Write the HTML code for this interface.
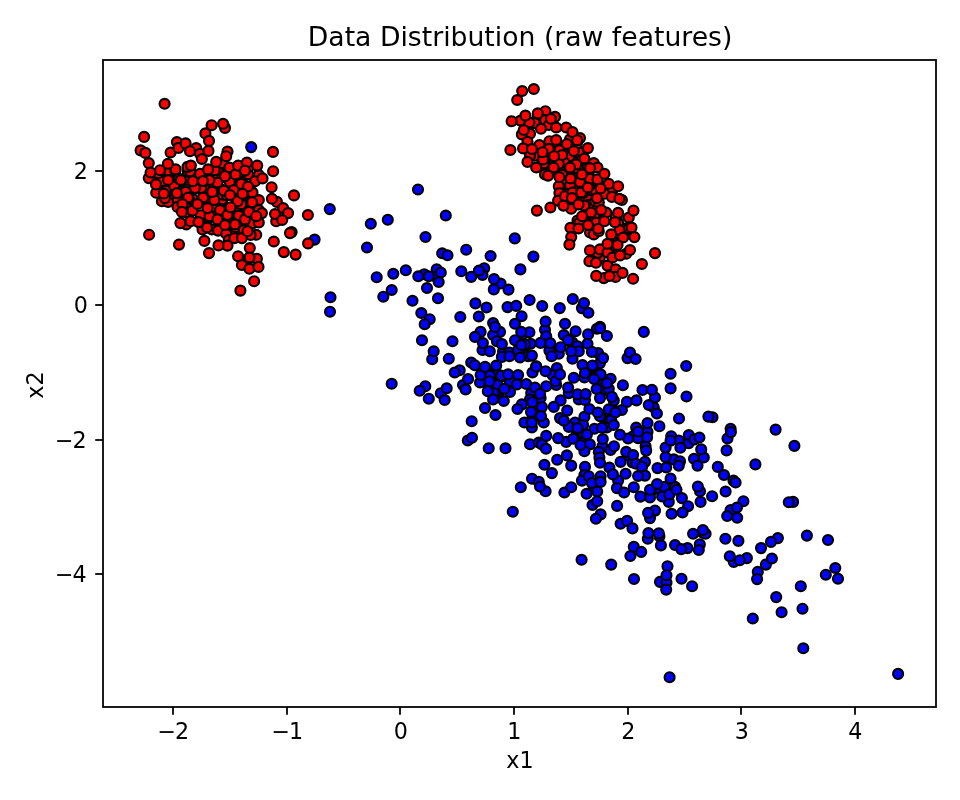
<!DOCTYPE html>
<html><head><meta charset="utf-8"><title>Data Distribution (raw features)</title>
<style>
html,body{margin:0;padding:0;background:#fff;}
body{width:960px;height:800px;overflow:hidden;}
svg{display:block;}
text{font-family:"DejaVu Sans","Liberation Sans",sans-serif;fill:#000;}
.t{font-size:22.22px;}
.ti{font-size:26.67px;}
.p circle{stroke:#000;stroke-width:2.2;}
.r{fill:#ff0000;}
.b{fill:#0000ff;}
</style></head><body>
<svg width="960" height="800" viewBox="0 0 960 800">
<rect x="0" y="0" width="960" height="800" fill="#fff"/>
<defs><clipPath id="c"><rect x="103" y="60" width="833" height="647"/></clipPath></defs>
<g class="p" clip-path="url(#c)">
<circle class="r" cx="589.8" cy="223.8" r="4.97"/>
<circle class="r" cx="615.2" cy="250.8" r="4.97"/>
<circle class="r" cx="542.2" cy="152.8" r="4.97"/>
<circle class="r" cx="566.8" cy="166.2" r="4.97"/>
<circle class="r" cx="192.8" cy="185.8" r="4.97"/>
<circle class="r" cx="170.2" cy="177.2" r="4.97"/>
<circle class="r" cx="161.2" cy="181.8" r="4.97"/>
<circle class="r" cx="224.8" cy="177.2" r="4.97"/>
<circle class="r" cx="234.2" cy="172.2" r="4.97"/>
<circle class="r" cx="236.8" cy="208.2" r="4.97"/>
<circle class="r" cx="612.2" cy="251.2" r="4.97"/>
<circle class="r" cx="599.2" cy="255.8" r="4.97"/>
<circle class="r" cx="248.8" cy="219.2" r="4.97"/>
<circle class="r" cx="186.8" cy="184.2" r="4.97"/>
<circle class="r" cx="255.8" cy="214.2" r="4.97"/>
<circle class="r" cx="582.8" cy="174.8" r="4.97"/>
<circle class="r" cx="623.8" cy="235.2" r="4.97"/>
<circle class="r" cx="543.2" cy="116.2" r="4.97"/>
<circle class="r" cx="174.2" cy="175.8" r="4.97"/>
<circle class="r" cx="237.8" cy="185.8" r="4.97"/>
<circle class="r" cx="527.8" cy="148.2" r="4.97"/>
<circle class="r" cx="592.8" cy="218.8" r="4.97"/>
<circle class="r" cx="203.2" cy="192.2" r="4.97"/>
<circle class="r" cx="181.8" cy="179.8" r="4.97"/>
<circle class="r" cx="535.2" cy="152.2" r="4.97"/>
<circle class="r" cx="214.8" cy="195.2" r="4.97"/>
<circle class="r" cx="588.8" cy="165.8" r="4.97"/>
<circle class="r" cx="587.2" cy="212.2" r="4.97"/>
<circle class="r" cx="171.2" cy="173.8" r="4.97"/>
<circle class="r" cx="599.2" cy="217.2" r="4.97"/>
<circle class="r" cx="542.2" cy="160.2" r="4.97"/>
<circle class="r" cx="229.8" cy="234.2" r="4.97"/>
<circle class="r" cx="223.2" cy="226.2" r="4.97"/>
<circle class="r" cx="215.2" cy="174.8" r="4.97"/>
<circle class="r" cx="580.8" cy="169.8" r="4.97"/>
<circle class="r" cx="608.8" cy="252.2" r="4.97"/>
<circle class="r" cx="584.8" cy="194.8" r="4.97"/>
<circle class="r" cx="192.2" cy="201.8" r="4.97"/>
<circle class="r" cx="560.8" cy="188.8" r="4.97"/>
<circle class="r" cx="578.2" cy="184.2" r="4.97"/>
<circle class="r" cx="592.8" cy="194.8" r="4.97"/>
<circle class="r" cx="216.2" cy="207.8" r="4.97"/>
<circle class="r" cx="572.8" cy="169.8" r="4.97"/>
<circle class="r" cx="202.8" cy="217.2" r="4.97"/>
<circle class="r" cx="254.8" cy="215.2" r="4.97"/>
<circle class="r" cx="616.8" cy="241.8" r="4.97"/>
<circle class="r" cx="243.8" cy="184.8" r="4.97"/>
<circle class="r" cx="616.8" cy="217.2" r="4.97"/>
<circle class="r" cx="247.8" cy="207.8" r="4.97"/>
<circle class="r" cx="221.8" cy="202.8" r="4.97"/>
<circle class="r" cx="221.2" cy="220.2" r="4.97"/>
<circle class="r" cx="177.8" cy="204.2" r="4.97"/>
<circle class="r" cx="243.2" cy="224.2" r="4.97"/>
<circle class="r" cx="242.2" cy="173.2" r="4.97"/>
<circle class="r" cx="241.2" cy="232.2" r="4.97"/>
<circle class="r" cx="542.8" cy="149.2" r="4.97"/>
<circle class="r" cx="205.8" cy="193.8" r="4.97"/>
<circle class="r" cx="229.2" cy="224.2" r="4.97"/>
<circle class="r" cx="585.2" cy="220.8" r="4.97"/>
<circle class="r" cx="234.8" cy="189.8" r="4.97"/>
<circle class="r" cx="594.8" cy="185.2" r="4.97"/>
<circle class="r" cx="577.2" cy="168.2" r="4.97"/>
<circle class="r" cx="580.8" cy="193.8" r="4.97"/>
<circle class="r" cx="210.2" cy="181.8" r="4.97"/>
<circle class="r" cx="596.2" cy="207.8" r="4.97"/>
<circle class="r" cx="609.2" cy="246.2" r="4.97"/>
<circle class="r" cx="578.8" cy="154.2" r="4.97"/>
<circle class="r" cx="551.2" cy="166.8" r="4.97"/>
<circle class="r" cx="604.8" cy="187.2" r="4.97"/>
<circle class="r" cx="236.8" cy="200.8" r="4.97"/>
<circle class="r" cx="183.8" cy="179.2" r="4.97"/>
<circle class="r" cx="248.2" cy="211.2" r="4.97"/>
<circle class="r" cx="588.8" cy="175.2" r="4.97"/>
<circle class="r" cx="542.2" cy="149.2" r="4.97"/>
<circle class="r" cx="578.8" cy="223.8" r="4.97"/>
<circle class="r" cx="565.2" cy="159.8" r="4.97"/>
<circle class="r" cx="205.8" cy="189.8" r="4.97"/>
<circle class="r" cx="174.8" cy="170.8" r="4.97"/>
<circle class="r" cx="240.8" cy="231.2" r="4.97"/>
<circle class="r" cx="573.8" cy="199.8" r="4.97"/>
<circle class="r" cx="578.2" cy="171.8" r="4.97"/>
<circle class="r" cx="596.2" cy="208.2" r="4.97"/>
<circle class="r" cx="560.2" cy="174.2" r="4.97"/>
<circle class="r" cx="571.2" cy="194.8" r="4.97"/>
<circle class="r" cx="582.8" cy="203.2" r="4.97"/>
<circle class="r" cx="558.2" cy="154.8" r="4.97"/>
<circle class="r" cx="565.2" cy="149.8" r="4.97"/>
<circle class="r" cx="236.8" cy="221.8" r="4.97"/>
<circle class="r" cx="172.2" cy="194.2" r="4.97"/>
<circle class="r" cx="209.2" cy="198.2" r="4.97"/>
<circle class="r" cx="222.2" cy="174.2" r="4.97"/>
<circle class="r" cx="526.2" cy="120.8" r="4.97"/>
<circle class="r" cx="591.2" cy="223.8" r="4.97"/>
<circle class="r" cx="561.8" cy="176.2" r="4.97"/>
<circle class="r" cx="213.8" cy="192.2" r="4.97"/>
<circle class="r" cx="190.8" cy="180.2" r="4.97"/>
<circle class="r" cx="175.2" cy="181.2" r="4.97"/>
<circle class="r" cx="153.8" cy="175.2" r="4.97"/>
<circle class="r" cx="595.2" cy="217.8" r="4.97"/>
<circle class="r" cx="246.2" cy="169.2" r="4.97"/>
<circle class="r" cx="180.8" cy="193.8" r="4.97"/>
<circle class="r" cx="581.8" cy="168.2" r="4.97"/>
<circle class="r" cx="191.8" cy="204.8" r="4.97"/>
<circle class="r" cx="227.2" cy="209.2" r="4.97"/>
<circle class="r" cx="570.8" cy="145.2" r="4.97"/>
<circle class="r" cx="219.2" cy="198.8" r="4.97"/>
<circle class="r" cx="578.8" cy="200.2" r="4.97"/>
<circle class="r" cx="223.8" cy="223.2" r="4.97"/>
<circle class="r" cx="167.8" cy="178.2" r="4.97"/>
<circle class="r" cx="235.2" cy="209.8" r="4.97"/>
<circle class="r" cx="212.2" cy="213.8" r="4.97"/>
<circle class="r" cx="254.2" cy="207.2" r="4.97"/>
<circle class="r" cx="541.2" cy="165.8" r="4.97"/>
<circle class="r" cx="597.2" cy="254.8" r="4.97"/>
<circle class="r" cx="186.8" cy="199.8" r="4.97"/>
<circle class="r" cx="163.8" cy="193.8" r="4.97"/>
<circle class="r" cx="593.2" cy="231.2" r="4.97"/>
<circle class="r" cx="588.2" cy="203.8" r="4.97"/>
<circle class="r" cx="595.8" cy="220.2" r="4.97"/>
<circle class="r" cx="561.2" cy="146.8" r="4.97"/>
<circle class="r" cx="207.8" cy="196.8" r="4.97"/>
<circle class="r" cx="188.8" cy="209.8" r="4.97"/>
<circle class="r" cx="234.2" cy="192.2" r="4.97"/>
<circle class="r" cx="579.8" cy="201.2" r="4.97"/>
<circle class="r" cx="219.2" cy="208.2" r="4.97"/>
<circle class="r" cx="192.2" cy="205.2" r="4.97"/>
<circle class="r" cx="576.8" cy="180.2" r="4.97"/>
<circle class="r" cx="554.2" cy="163.2" r="4.97"/>
<circle class="r" cx="232.2" cy="209.8" r="4.97"/>
<circle class="r" cx="206.8" cy="199.2" r="4.97"/>
<circle class="r" cx="246.8" cy="195.8" r="4.97"/>
<circle class="r" cx="201.2" cy="218.2" r="4.97"/>
<circle class="r" cx="235.2" cy="187.2" r="4.97"/>
<circle class="r" cx="245.8" cy="229.8" r="4.97"/>
<circle class="r" cx="241.2" cy="200.8" r="4.97"/>
<circle class="r" cx="234.8" cy="222.2" r="4.97"/>
<circle class="r" cx="152.2" cy="176.8" r="4.97"/>
<circle class="r" cx="179.8" cy="201.8" r="4.97"/>
<circle class="r" cx="547.2" cy="148.8" r="4.97"/>
<circle class="r" cx="183.2" cy="203.2" r="4.97"/>
<circle class="r" cx="215.2" cy="214.2" r="4.97"/>
<circle class="r" cx="205.8" cy="188.2" r="4.97"/>
<circle class="r" cx="574.2" cy="168.2" r="4.97"/>
<circle class="r" cx="227.2" cy="169.2" r="4.97"/>
<circle class="r" cx="586.2" cy="188.8" r="4.97"/>
<circle class="r" cx="254.2" cy="203.2" r="4.97"/>
<circle class="r" cx="230.2" cy="170.2" r="4.97"/>
<circle class="r" cx="217.2" cy="176.8" r="4.97"/>
<circle class="r" cx="178.2" cy="183.8" r="4.97"/>
<circle class="r" cx="541.8" cy="123.2" r="4.97"/>
<circle class="r" cx="187.8" cy="205.8" r="4.97"/>
<circle class="r" cx="559.8" cy="175.8" r="4.97"/>
<circle class="r" cx="220.8" cy="166.2" r="4.97"/>
<circle class="r" cx="229.8" cy="216.8" r="4.97"/>
<circle class="r" cx="172.8" cy="194.8" r="4.97"/>
<circle class="r" cx="578.2" cy="223.2" r="4.97"/>
<circle class="r" cx="589.8" cy="182.8" r="4.97"/>
<circle class="r" cx="180.8" cy="181.2" r="4.97"/>
<circle class="r" cx="221.8" cy="189.8" r="4.97"/>
<circle class="r" cx="589.2" cy="178.8" r="4.97"/>
<circle class="r" cx="161.2" cy="181.2" r="4.97"/>
<circle class="r" cx="229.8" cy="181.8" r="4.97"/>
<circle class="r" cx="169.2" cy="190.8" r="4.97"/>
<circle class="r" cx="599.8" cy="257.2" r="4.97"/>
<circle class="r" cx="562.2" cy="174.8" r="4.97"/>
<circle class="r" cx="200.8" cy="215.2" r="4.97"/>
<circle class="r" cx="217.8" cy="170.8" r="4.97"/>
<circle class="r" cx="241.2" cy="204.2" r="4.97"/>
<circle class="r" cx="192.8" cy="199.2" r="4.97"/>
<circle class="r" cx="187.2" cy="179.8" r="4.97"/>
<circle class="r" cx="185.8" cy="212.2" r="4.97"/>
<circle class="r" cx="235.8" cy="227.2" r="4.97"/>
<circle class="r" cx="168.8" cy="171.2" r="4.97"/>
<circle class="r" cx="222.2" cy="199.2" r="4.97"/>
<circle class="r" cx="578.2" cy="168.8" r="4.97"/>
<circle class="r" cx="252.8" cy="223.2" r="4.97"/>
<circle class="r" cx="222.8" cy="163.2" r="4.97"/>
<circle class="r" cx="248.2" cy="174.2" r="4.97"/>
<circle class="r" cx="588.8" cy="199.8" r="4.97"/>
<circle class="r" cx="543.8" cy="163.2" r="4.97"/>
<circle class="r" cx="614.8" cy="245.2" r="4.97"/>
<circle class="r" cx="534.2" cy="155.8" r="4.97"/>
<circle class="r" cx="211.8" cy="206.2" r="4.97"/>
<circle class="r" cx="588.8" cy="204.8" r="4.97"/>
<circle class="r" cx="594.2" cy="216.2" r="4.97"/>
<circle class="r" cx="618.2" cy="222.8" r="4.97"/>
<circle class="r" cx="187.8" cy="171.8" r="4.97"/>
<circle class="r" cx="578.8" cy="152.2" r="4.97"/>
<circle class="r" cx="612.2" cy="190.2" r="4.97"/>
<circle class="r" cx="534.2" cy="122.8" r="4.97"/>
<circle class="r" cx="213.2" cy="184.8" r="4.97"/>
<circle class="r" cx="550.2" cy="155.8" r="4.97"/>
<circle class="r" cx="578.8" cy="192.8" r="4.97"/>
<circle class="r" cx="622.2" cy="232.2" r="4.97"/>
<circle class="r" cx="576.8" cy="143.8" r="4.97"/>
<circle class="r" cx="158.2" cy="173.2" r="4.97"/>
<circle class="r" cx="595.2" cy="201.2" r="4.97"/>
<circle class="r" cx="246.2" cy="193.2" r="4.97"/>
<circle class="r" cx="626.2" cy="228.2" r="4.97"/>
<circle class="r" cx="190.2" cy="171.2" r="4.97"/>
<circle class="r" cx="193.8" cy="189.2" r="4.97"/>
<circle class="r" cx="597.8" cy="181.8" r="4.97"/>
<circle class="r" cx="537.8" cy="116.8" r="4.97"/>
<circle class="r" cx="248.8" cy="166.8" r="4.97"/>
<circle class="r" cx="615.8" cy="217.2" r="4.97"/>
<circle class="r" cx="240.2" cy="171.8" r="4.97"/>
<circle class="r" cx="618.2" cy="233.2" r="4.97"/>
<circle class="r" cx="534.8" cy="123.2" r="4.97"/>
<circle class="r" cx="236.8" cy="213.2" r="4.97"/>
<circle class="r" cx="583.2" cy="193.2" r="4.97"/>
<circle class="r" cx="249.2" cy="258.8" r="4.97"/>
<circle class="r" cx="628.8" cy="228.2" r="4.97"/>
<circle class="r" cx="209.8" cy="217.8" r="4.97"/>
<circle class="r" cx="175.2" cy="170.8" r="4.97"/>
<circle class="r" cx="229.8" cy="214.2" r="4.97"/>
<circle class="r" cx="564.2" cy="184.2" r="4.97"/>
<circle class="r" cx="592.2" cy="167.8" r="4.97"/>
<circle class="r" cx="586.2" cy="212.8" r="4.97"/>
<circle class="r" cx="214.8" cy="170.2" r="4.97"/>
<circle class="r" cx="581.2" cy="160.2" r="4.97"/>
<circle class="r" cx="222.8" cy="194.8" r="4.97"/>
<circle class="r" cx="188.8" cy="199.2" r="4.97"/>
<circle class="r" cx="180.8" cy="181.8" r="4.97"/>
<circle class="r" cx="597.8" cy="252.8" r="4.97"/>
<circle class="r" cx="567.8" cy="144.8" r="4.97"/>
<circle class="r" cx="226.8" cy="195.2" r="4.97"/>
<circle class="r" cx="554.2" cy="167.2" r="4.97"/>
<circle class="r" cx="165.8" cy="190.8" r="4.97"/>
<circle class="r" cx="214.8" cy="206.8" r="4.97"/>
<circle class="r" cx="555.2" cy="141.8" r="4.97"/>
<circle class="b" cx="491.2" cy="387.8" r="4.97"/>
<circle class="b" cx="555.2" cy="350.2" r="4.97"/>
<circle class="b" cx="603.8" cy="390.2" r="4.97"/>
<circle class="b" cx="658.8" cy="487.2" r="4.97"/>
<circle class="b" cx="598.2" cy="374.8" r="4.97"/>
<circle class="b" cx="533.8" cy="398.8" r="4.97"/>
<circle class="b" cx="578.2" cy="435.8" r="4.97"/>
<circle class="b" cx="496.8" cy="376.2" r="4.97"/>
<circle class="b" cx="603.8" cy="383.2" r="4.97"/>
<circle class="b" cx="516.2" cy="381.8" r="4.97"/>
<circle class="b" cx="580.2" cy="432.2" r="4.97"/>
<circle class="b" cx="576.8" cy="349.2" r="4.97"/>
<circle class="b" cx="492.8" cy="391.2" r="4.97"/>
<circle class="b" cx="486.2" cy="379.8" r="4.97"/>
<circle class="b" cx="498.8" cy="377.8" r="4.97"/>
<circle class="b" cx="515.2" cy="381.2" r="4.97"/>
<circle class="b" cx="524.2" cy="348.8" r="4.97"/>
<circle class="b" cx="523.8" cy="348.8" r="4.97"/>
<circle class="b" cx="610.2" cy="424.2" r="4.97"/>
<circle class="b" cx="594.2" cy="488.8" r="4.97"/>
<circle class="b" cx="582.8" cy="444.8" r="4.97"/>
<circle class="b" cx="600.8" cy="379.2" r="4.97"/>
<circle class="b" cx="491.2" cy="372.2" r="4.97"/>
<circle class="b" cx="519.2" cy="342.2" r="4.97"/>
<circle class="b" cx="511.2" cy="385.8" r="4.97"/>
<circle class="b" cx="498.2" cy="391.8" r="4.97"/>
<circle class="b" cx="513.8" cy="383.2" r="4.97"/>
<circle class="b" cx="539.2" cy="398.2" r="4.97"/>
<circle class="b" cx="501.2" cy="389.2" r="4.97"/>
<circle class="b" cx="643.2" cy="437.2" r="4.97"/>
<circle class="b" cx="524.2" cy="344.2" r="4.97"/>
<circle class="b" cx="532.2" cy="401.2" r="4.97"/>
<circle class="b" cx="515.8" cy="382.2" r="4.97"/>
<circle class="b" cx="533.2" cy="395.8" r="4.97"/>
<circle class="b" cx="505.8" cy="376.8" r="4.97"/>
<circle class="b" cx="498.2" cy="393.8" r="4.97"/>
<circle class="b" cx="596.2" cy="371.8" r="4.97"/>
<circle class="b" cx="569.2" cy="341.2" r="4.97"/>
<circle class="b" cx="491.2" cy="373.2" r="4.97"/>
<circle class="b" cx="536.2" cy="397.8" r="4.97"/>
<circle class="b" cx="583.8" cy="437.2" r="4.97"/>
<circle class="b" cx="534.2" cy="389.8" r="4.97"/>
<circle class="b" cx="489.2" cy="374.2" r="4.97"/>
<circle class="b" cx="535.8" cy="411.2" r="4.97"/>
<circle class="b" cx="733.2" cy="513.2" r="4.97"/>
<circle class="b" cx="581.8" cy="425.2" r="4.97"/>
<circle class="b" cx="489.8" cy="378.8" r="4.97"/>
<circle class="b" cx="599.2" cy="383.2" r="4.97"/>
<circle class="b" cx="516.2" cy="379.2" r="4.97"/>
<circle class="b" cx="577.2" cy="432.2" r="4.97"/>
<circle class="b" cx="602.2" cy="388.2" r="4.97"/>
<circle class="b" cx="655.8" cy="488.8" r="4.97"/>
<circle class="b" cx="596.2" cy="376.8" r="4.97"/>
<circle class="b" cx="492.8" cy="373.2" r="4.97"/>
<circle class="b" cx="522.8" cy="334.2" r="4.97"/>
<circle class="b" cx="702.8" cy="532.8" r="4.97"/>
<circle class="b" cx="577.2" cy="434.8" r="4.97"/>
<circle class="b" cx="500.8" cy="388.8" r="4.97"/>
<circle class="b" cx="628.2" cy="455.2" r="4.97"/>
<circle class="b" cx="602.2" cy="415.8" r="4.97"/>
<circle class="b" cx="605.8" cy="389.2" r="4.97"/>
<circle class="b" cx="645.2" cy="429.8" r="4.97"/>
<circle class="b" cx="500.8" cy="376.8" r="4.97"/>
<circle class="b" cx="524.8" cy="345.2" r="4.97"/>
<circle class="b" cx="497.2" cy="390.8" r="4.97"/>
<circle class="b" cx="568.8" cy="340.2" r="4.97"/>
<circle class="b" cx="604.8" cy="426.8" r="4.97"/>
<circle class="b" cx="546.2" cy="342.2" r="4.97"/>
<circle class="b" cx="594.2" cy="487.8" r="4.97"/>
<circle class="b" cx="569.8" cy="340.2" r="4.97"/>
<circle class="b" cx="592.8" cy="366.8" r="4.97"/>
<circle class="b" cx="680.8" cy="442.8" r="4.97"/>
<circle class="b" cx="482.2" cy="381.8" r="4.97"/>
<circle class="b" cx="568.8" cy="339.2" r="4.97"/>
<circle class="b" cx="612.8" cy="409.2" r="4.97"/>
<circle class="b" cx="535.8" cy="401.2" r="4.97"/>
<circle class="b" cx="482.2" cy="371.2" r="4.97"/>
<circle class="b" cx="650.8" cy="491.8" r="4.97"/>
<circle class="b" cx="598.2" cy="375.8" r="4.97"/>
<circle class="b" cx="569.2" cy="340.8" r="4.97"/>
<circle class="b" cx="577.2" cy="432.8" r="4.97"/>
<circle class="b" cx="582.8" cy="432.8" r="4.97"/>
<circle class="r" cx="174.2" cy="185.8" r="4.97"/>
<circle class="b" cx="556.9" cy="368.1" r="4.97"/>
<circle class="b" cx="484.2" cy="268.2" r="4.97"/>
<circle class="r" cx="140.6" cy="150.4" r="4.97"/>
<circle class="r" cx="176.9" cy="142.1" r="4.97"/>
<circle class="r" cx="196.2" cy="148.1" r="4.97"/>
<circle class="r" cx="225.0" cy="127.9" r="4.97"/>
<circle class="r" cx="200.0" cy="153.8" r="4.97"/>
<circle class="r" cx="227.5" cy="151.5" r="4.97"/>
<circle class="r" cx="164.6" cy="103.8" r="4.97"/>
<circle class="r" cx="144.1" cy="136.9" r="4.97"/>
<circle class="r" cx="145.4" cy="152.9" r="4.97"/>
<circle class="r" cx="170.6" cy="152.5" r="4.97"/>
<circle class="r" cx="178.5" cy="147.9" r="4.97"/>
<circle class="r" cx="185.6" cy="143.4" r="4.97"/>
<circle class="r" cx="190.0" cy="151.2" r="4.97"/>
<circle class="r" cx="211.6" cy="125.2" r="4.97"/>
<circle class="r" cx="223.1" cy="123.8" r="4.97"/>
<circle class="r" cx="205.4" cy="133.4" r="4.97"/>
<circle class="r" cx="209.0" cy="140.9" r="4.97"/>
<circle class="r" cx="208.5" cy="150.9" r="4.97"/>
<circle class="r" cx="201.9" cy="159.0" r="4.97"/>
<circle class="r" cx="226.2" cy="156.2" r="4.97"/>
<circle class="r" cx="148.8" cy="178.1" r="4.97"/>
<circle class="r" cx="175.6" cy="169.4" r="4.97"/>
<circle class="r" cx="156.2" cy="192.8" r="4.97"/>
<circle class="r" cx="161.9" cy="201.2" r="4.97"/>
<circle class="r" cx="168.1" cy="201.9" r="4.97"/>
<circle class="r" cx="165.0" cy="198.1" r="4.97"/>
<circle class="r" cx="178.8" cy="178.8" r="4.97"/>
<circle class="r" cx="187.5" cy="166.9" r="4.97"/>
<circle class="r" cx="200.0" cy="173.8" r="4.97"/>
<circle class="r" cx="217.5" cy="182.5" r="4.97"/>
<circle class="r" cx="209.4" cy="180.0" r="4.97"/>
<circle class="r" cx="201.2" cy="188.1" r="4.97"/>
<circle class="r" cx="195.0" cy="188.1" r="4.97"/>
<circle class="r" cx="185.6" cy="191.9" r="4.97"/>
<circle class="r" cx="177.8" cy="200.6" r="4.97"/>
<circle class="r" cx="203.1" cy="197.5" r="4.97"/>
<circle class="r" cx="214.4" cy="200.0" r="4.97"/>
<circle class="r" cx="192.5" cy="210.6" r="4.97"/>
<circle class="r" cx="177.5" cy="206.9" r="4.97"/>
<circle class="r" cx="223.8" cy="190.6" r="4.97"/>
<circle class="r" cx="233.8" cy="190.0" r="4.97"/>
<circle class="r" cx="237.5" cy="201.2" r="4.97"/>
<circle class="r" cx="220.0" cy="210.0" r="4.97"/>
<circle class="r" cx="227.5" cy="215.0" r="4.97"/>
<circle class="r" cx="209.4" cy="216.2" r="4.97"/>
<circle class="r" cx="186.2" cy="224.4" r="4.97"/>
<circle class="r" cx="190.6" cy="221.2" r="4.97"/>
<circle class="r" cx="202.5" cy="229.4" r="4.97"/>
<circle class="r" cx="211.9" cy="229.4" r="4.97"/>
<circle class="r" cx="218.1" cy="230.6" r="4.97"/>
<circle class="r" cx="226.2" cy="233.8" r="4.97"/>
<circle class="r" cx="228.8" cy="240.0" r="4.97"/>
<circle class="r" cx="227.5" cy="245.6" r="4.97"/>
<circle class="r" cx="148.8" cy="163.1" r="4.97"/>
<circle class="r" cx="150.6" cy="172.5" r="4.97"/>
<circle class="r" cx="160.0" cy="170.2" r="4.97"/>
<circle class="r" cx="167.9" cy="163.8" r="4.97"/>
<circle class="r" cx="168.1" cy="180.0" r="4.97"/>
<circle class="r" cx="156.0" cy="184.4" r="4.97"/>
<circle class="r" cx="163.8" cy="193.5" r="4.97"/>
<circle class="r" cx="180.9" cy="180.0" r="4.97"/>
<circle class="r" cx="190.9" cy="165.6" r="4.97"/>
<circle class="r" cx="208.1" cy="169.4" r="4.97"/>
<circle class="r" cx="192.9" cy="181.2" r="4.97"/>
<circle class="r" cx="202.9" cy="181.0" r="4.97"/>
<circle class="r" cx="216.2" cy="161.9" r="4.97"/>
<circle class="r" cx="229.4" cy="167.5" r="4.97"/>
<circle class="r" cx="225.0" cy="176.2" r="4.97"/>
<circle class="r" cx="235.6" cy="174.4" r="4.97"/>
<circle class="r" cx="238.1" cy="165.6" r="4.97"/>
<circle class="r" cx="212.2" cy="191.9" r="4.97"/>
<circle class="r" cx="176.9" cy="193.1" r="4.97"/>
<circle class="r" cx="188.1" cy="197.5" r="4.97"/>
<circle class="r" cx="182.5" cy="204.0" r="4.97"/>
<circle class="r" cx="197.5" cy="204.0" r="4.97"/>
<circle class="r" cx="207.5" cy="208.1" r="4.97"/>
<circle class="r" cx="181.9" cy="211.9" r="4.97"/>
<circle class="r" cx="230.0" cy="195.0" r="4.97"/>
<circle class="r" cx="230.6" cy="207.2" r="4.97"/>
<circle class="r" cx="217.5" cy="219.4" r="4.97"/>
<circle class="r" cx="238.8" cy="215.6" r="4.97"/>
<circle class="r" cx="225.0" cy="225.0" r="4.97"/>
<circle class="r" cx="235.0" cy="224.4" r="4.97"/>
<circle class="r" cx="180.4" cy="223.1" r="4.97"/>
<circle class="r" cx="198.5" cy="222.1" r="4.97"/>
<circle class="r" cx="207.1" cy="227.5" r="4.97"/>
<circle class="r" cx="234.4" cy="238.1" r="4.97"/>
<circle class="r" cx="149.1" cy="234.8" r="4.97"/>
<circle class="r" cx="179.0" cy="244.6" r="4.97"/>
<circle class="r" cx="204.4" cy="240.9" r="4.97"/>
<circle class="r" cx="218.5" cy="245.4" r="4.97"/>
<circle class="r" cx="209.0" cy="253.1" r="4.97"/>
<circle class="r" cx="238.1" cy="256.2" r="4.97"/>
<circle class="b" cx="251.2" cy="147.1" r="4.97"/>
<circle class="r" cx="273.0" cy="151.9" r="4.97"/>
<circle class="b" cx="314.6" cy="239.6" r="4.97"/>
<circle class="r" cx="246.9" cy="162.5" r="4.97"/>
<circle class="r" cx="245.0" cy="170.6" r="4.97"/>
<circle class="r" cx="258.8" cy="175.0" r="4.97"/>
<circle class="r" cx="255.0" cy="181.2" r="4.97"/>
<circle class="r" cx="241.2" cy="183.8" r="4.97"/>
<circle class="r" cx="252.5" cy="192.5" r="4.97"/>
<circle class="r" cx="258.8" cy="200.0" r="4.97"/>
<circle class="r" cx="276.9" cy="201.9" r="4.97"/>
<circle class="r" cx="283.1" cy="208.1" r="4.97"/>
<circle class="r" cx="276.2" cy="221.2" r="4.97"/>
<circle class="r" cx="258.8" cy="210.0" r="4.97"/>
<circle class="r" cx="261.9" cy="213.1" r="4.97"/>
<circle class="r" cx="258.8" cy="222.5" r="4.97"/>
<circle class="r" cx="245.0" cy="219.4" r="4.97"/>
<circle class="r" cx="291.6" cy="232.1" r="4.97"/>
<circle class="r" cx="256.2" cy="234.8" r="4.97"/>
<circle class="r" cx="243.8" cy="230.0" r="4.97"/>
<circle class="r" cx="256.9" cy="258.8" r="4.97"/>
<circle class="r" cx="257.2" cy="165.6" r="4.97"/>
<circle class="r" cx="273.1" cy="171.2" r="4.97"/>
<circle class="r" cx="262.5" cy="178.4" r="4.97"/>
<circle class="r" cx="271.6" cy="187.2" r="4.97"/>
<circle class="r" cx="248.1" cy="186.5" r="4.97"/>
<circle class="r" cx="242.5" cy="193.8" r="4.97"/>
<circle class="r" cx="252.1" cy="202.2" r="4.97"/>
<circle class="r" cx="271.9" cy="198.8" r="4.97"/>
<circle class="r" cx="294.0" cy="195.4" r="4.97"/>
<circle class="r" cx="288.1" cy="213.1" r="4.97"/>
<circle class="r" cx="275.0" cy="214.0" r="4.97"/>
<circle class="r" cx="282.2" cy="220.0" r="4.97"/>
<circle class="r" cx="248.8" cy="211.9" r="4.97"/>
<circle class="r" cx="256.2" cy="216.2" r="4.97"/>
<circle class="r" cx="307.9" cy="215.0" r="4.97"/>
<circle class="r" cx="290.0" cy="233.1" r="4.97"/>
<circle class="r" cx="308.1" cy="243.4" r="4.97"/>
<circle class="r" cx="273.8" cy="241.5" r="4.97"/>
<circle class="r" cx="250.6" cy="235.0" r="4.97"/>
<circle class="r" cx="241.9" cy="238.1" r="4.97"/>
<circle class="r" cx="247.5" cy="231.2" r="4.97"/>
<circle class="r" cx="249.8" cy="248.1" r="4.97"/>
<circle class="r" cx="283.8" cy="252.1" r="4.97"/>
<circle class="r" cx="295.6" cy="254.6" r="4.97"/>
<circle class="r" cx="249.4" cy="257.5" r="4.97"/>
<circle class="b" cx="329.8" cy="209.1" r="4.97"/>
<circle class="r" cx="241.9" cy="265.0" r="4.97"/>
<circle class="r" cx="249.4" cy="268.8" r="4.97"/>
<circle class="r" cx="258.5" cy="266.9" r="4.97"/>
<circle class="r" cx="254.1" cy="281.2" r="4.97"/>
<circle class="r" cx="240.4" cy="290.6" r="4.97"/>
<circle class="r" cx="545.4" cy="111.2" r="4.97"/>
<circle class="r" cx="555.0" cy="116.9" r="4.97"/>
<circle class="r" cx="545.0" cy="120.0" r="4.97"/>
<circle class="r" cx="548.8" cy="125.0" r="4.97"/>
<circle class="r" cx="520.6" cy="120.6" r="4.97"/>
<circle class="r" cx="529.4" cy="122.5" r="4.97"/>
<circle class="r" cx="530.0" cy="133.8" r="4.97"/>
<circle class="r" cx="521.9" cy="134.4" r="4.97"/>
<circle class="r" cx="527.5" cy="141.9" r="4.97"/>
<circle class="r" cx="566.2" cy="127.5" r="4.97"/>
<circle class="r" cx="580.0" cy="138.1" r="4.97"/>
<circle class="r" cx="570.0" cy="139.4" r="4.97"/>
<circle class="r" cx="539.4" cy="145.0" r="4.97"/>
<circle class="r" cx="549.4" cy="141.2" r="4.97"/>
<circle class="r" cx="548.8" cy="148.8" r="4.97"/>
<circle class="r" cx="559.4" cy="150.0" r="4.97"/>
<circle class="r" cx="569.4" cy="156.2" r="4.97"/>
<circle class="r" cx="564.4" cy="162.5" r="4.97"/>
<circle class="r" cx="558.8" cy="163.8" r="4.97"/>
<circle class="r" cx="530.0" cy="155.6" r="4.97"/>
<circle class="r" cx="527.5" cy="161.9" r="4.97"/>
<circle class="r" cx="543.1" cy="159.4" r="4.97"/>
<circle class="r" cx="593.8" cy="163.1" r="4.97"/>
<circle class="r" cx="597.5" cy="167.5" r="4.97"/>
<circle class="r" cx="533.8" cy="89.0" r="4.97"/>
<circle class="r" cx="522.2" cy="91.0" r="4.97"/>
<circle class="r" cx="517.2" cy="100.0" r="4.97"/>
<circle class="r" cx="537.8" cy="113.4" r="4.97"/>
<circle class="r" cx="525.4" cy="115.6" r="4.97"/>
<circle class="r" cx="511.6" cy="121.2" r="4.97"/>
<circle class="r" cx="550.9" cy="118.8" r="4.97"/>
<circle class="r" cx="541.0" cy="128.8" r="4.97"/>
<circle class="r" cx="556.2" cy="127.5" r="4.97"/>
<circle class="r" cx="523.8" cy="130.0" r="4.97"/>
<circle class="r" cx="572.5" cy="132.1" r="4.97"/>
<circle class="r" cx="556.2" cy="140.0" r="4.97"/>
<circle class="r" cx="577.2" cy="140.2" r="4.97"/>
<circle class="r" cx="566.9" cy="144.0" r="4.97"/>
<circle class="r" cx="587.9" cy="148.1" r="4.97"/>
<circle class="r" cx="510.4" cy="150.0" r="4.97"/>
<circle class="r" cx="523.1" cy="148.4" r="4.97"/>
<circle class="r" cx="531.9" cy="149.0" r="4.97"/>
<circle class="r" cx="542.5" cy="152.2" r="4.97"/>
<circle class="r" cx="573.8" cy="151.0" r="4.97"/>
<circle class="r" cx="562.2" cy="155.0" r="4.97"/>
<circle class="r" cx="554.1" cy="156.2" r="4.97"/>
<circle class="r" cx="584.4" cy="158.5" r="4.97"/>
<circle class="r" cx="576.2" cy="164.4" r="4.97"/>
<circle class="r" cx="590.0" cy="168.1" r="4.97"/>
<circle class="r" cx="536.2" cy="167.5" r="4.97"/>
<circle class="r" cx="553.5" cy="167.5" r="4.97"/>
<circle class="r" cx="570.0" cy="167.5" r="4.97"/>
<circle class="r" cx="545.0" cy="174.4" r="4.97"/>
<circle class="r" cx="558.8" cy="186.2" r="4.97"/>
<circle class="r" cx="559.4" cy="193.1" r="4.97"/>
<circle class="r" cx="558.1" cy="200.6" r="4.97"/>
<circle class="r" cx="565.0" cy="196.2" r="4.97"/>
<circle class="r" cx="570.0" cy="185.0" r="4.97"/>
<circle class="r" cx="580.0" cy="181.9" r="4.97"/>
<circle class="r" cx="590.0" cy="178.8" r="4.97"/>
<circle class="r" cx="596.2" cy="192.5" r="4.97"/>
<circle class="r" cx="604.4" cy="193.8" r="4.97"/>
<circle class="r" cx="572.5" cy="192.5" r="4.97"/>
<circle class="r" cx="581.2" cy="192.5" r="4.97"/>
<circle class="r" cx="571.2" cy="208.8" r="4.97"/>
<circle class="r" cx="584.4" cy="205.6" r="4.97"/>
<circle class="r" cx="598.8" cy="202.5" r="4.97"/>
<circle class="r" cx="577.5" cy="220.6" r="4.97"/>
<circle class="r" cx="579.4" cy="222.5" r="4.97"/>
<circle class="r" cx="590.0" cy="232.5" r="4.97"/>
<circle class="r" cx="593.8" cy="234.4" r="4.97"/>
<circle class="r" cx="598.8" cy="231.2" r="4.97"/>
<circle class="r" cx="596.2" cy="222.5" r="4.97"/>
<circle class="r" cx="606.2" cy="212.5" r="4.97"/>
<circle class="r" cx="608.8" cy="183.8" r="4.97"/>
<circle class="r" cx="589.4" cy="261.2" r="4.97"/>
<circle class="r" cx="600.0" cy="249.4" r="4.97"/>
<circle class="r" cx="607.5" cy="252.5" r="4.97"/>
<circle class="r" cx="548.1" cy="175.6" r="4.97"/>
<circle class="r" cx="559.4" cy="177.1" r="4.97"/>
<circle class="r" cx="570.6" cy="178.5" r="4.97"/>
<circle class="r" cx="581.9" cy="174.4" r="4.97"/>
<circle class="r" cx="597.5" cy="179.4" r="4.97"/>
<circle class="r" cx="604.4" cy="173.8" r="4.97"/>
<circle class="r" cx="587.8" cy="187.5" r="4.97"/>
<circle class="r" cx="600.6" cy="188.5" r="4.97"/>
<circle class="r" cx="571.9" cy="198.1" r="4.97"/>
<circle class="r" cx="563.4" cy="205.6" r="4.97"/>
<circle class="r" cx="578.5" cy="204.4" r="4.97"/>
<circle class="r" cx="550.4" cy="207.5" r="4.97"/>
<circle class="r" cx="536.9" cy="210.6" r="4.97"/>
<circle class="r" cx="596.9" cy="198.1" r="4.97"/>
<circle class="r" cx="601.2" cy="210.0" r="4.97"/>
<circle class="r" cx="591.0" cy="212.5" r="4.97"/>
<circle class="r" cx="582.1" cy="216.2" r="4.97"/>
<circle class="r" cx="604.4" cy="221.2" r="4.97"/>
<circle class="r" cx="588.1" cy="225.0" r="4.97"/>
<circle class="r" cx="598.1" cy="228.8" r="4.97"/>
<circle class="r" cx="570.4" cy="227.8" r="4.97"/>
<circle class="r" cx="578.5" cy="228.5" r="4.97"/>
<circle class="r" cx="571.2" cy="237.1" r="4.97"/>
<circle class="r" cx="569.4" cy="244.6" r="4.97"/>
<circle class="r" cx="590.0" cy="250.4" r="4.97"/>
<circle class="r" cx="607.5" cy="243.8" r="4.97"/>
<circle class="r" cx="596.0" cy="262.8" r="4.97"/>
<circle class="r" cx="607.5" cy="265.6" r="4.97"/>
<circle class="b" cx="514.8" cy="238.4" r="4.97"/>
<circle class="b" cx="533.4" cy="256.6" r="4.97"/>
<circle class="b" cx="490.6" cy="256.0" r="4.97"/>
<circle class="b" cx="520.4" cy="269.4" r="4.97"/>
<circle class="r" cx="621.9" cy="200.0" r="4.97"/>
<circle class="r" cx="628.8" cy="217.5" r="4.97"/>
<circle class="r" cx="619.4" cy="230.0" r="4.97"/>
<circle class="r" cx="623.1" cy="237.5" r="4.97"/>
<circle class="r" cx="617.5" cy="245.0" r="4.97"/>
<circle class="r" cx="626.2" cy="253.8" r="4.97"/>
<circle class="r" cx="611.9" cy="196.9" r="4.97"/>
<circle class="r" cx="612.5" cy="257.5" r="4.97"/>
<circle class="r" cx="618.1" cy="186.2" r="4.97"/>
<circle class="r" cx="619.4" cy="198.8" r="4.97"/>
<circle class="r" cx="633.5" cy="210.6" r="4.97"/>
<circle class="r" cx="618.1" cy="212.8" r="4.97"/>
<circle class="r" cx="615.0" cy="222.2" r="4.97"/>
<circle class="r" cx="631.5" cy="227.5" r="4.97"/>
<circle class="r" cx="634.4" cy="237.1" r="4.97"/>
<circle class="r" cx="611.2" cy="234.4" r="4.97"/>
<circle class="r" cx="630.0" cy="250.0" r="4.97"/>
<circle class="r" cx="620.0" cy="255.4" r="4.97"/>
<circle class="r" cx="655.0" cy="253.1" r="4.97"/>
<circle class="r" cx="641.9" cy="264.0" r="4.97"/>
<circle class="r" cx="615.6" cy="269.4" r="4.97"/>
<circle class="r" cx="603.8" cy="278.1" r="4.97"/>
<circle class="r" cx="615.6" cy="276.9" r="4.97"/>
<circle class="r" cx="596.2" cy="275.9" r="4.97"/>
<circle class="r" cx="609.4" cy="276.0" r="4.97"/>
<circle class="r" cx="622.5" cy="272.9" r="4.97"/>
<circle class="r" cx="633.1" cy="278.8" r="4.97"/>
<circle class="b" cx="581.9" cy="308.1" r="4.97"/>
<circle class="b" cx="572.8" cy="299.0" r="4.97"/>
<circle class="b" cx="559.8" cy="308.1" r="4.97"/>
<circle class="b" cx="584.0" cy="303.1" r="4.97"/>
<circle class="b" cx="588.4" cy="312.8" r="4.97"/>
<circle class="b" cx="565.0" cy="323.8" r="4.97"/>
<circle class="b" cx="600.0" cy="326.9" r="4.97"/>
<circle class="b" cx="442.2" cy="253.3" r="4.97"/>
<circle class="b" cx="436.7" cy="269.2" r="4.97"/>
<circle class="b" cx="424.2" cy="274.2" r="4.97"/>
<circle class="b" cx="435.8" cy="276.7" r="4.97"/>
<circle class="b" cx="418.0" cy="189.5" r="4.97"/>
<circle class="b" cx="445.8" cy="215.5" r="4.97"/>
<circle class="b" cx="387.8" cy="219.8" r="4.97"/>
<circle class="b" cx="370.8" cy="223.8" r="4.97"/>
<circle class="b" cx="425.5" cy="237.0" r="4.97"/>
<circle class="b" cx="367.0" cy="247.5" r="4.97"/>
<circle class="b" cx="466.2" cy="249.7" r="4.97"/>
<circle class="b" cx="447.5" cy="255.3" r="4.97"/>
<circle class="b" cx="405.8" cy="270.3" r="4.97"/>
<circle class="b" cx="393.3" cy="273.8" r="4.97"/>
<circle class="b" cx="376.7" cy="277.2" r="4.97"/>
<circle class="b" cx="461.3" cy="271.2" r="4.97"/>
<circle class="b" cx="440.8" cy="272.5" r="4.97"/>
<circle class="b" cx="418.3" cy="276.3" r="4.97"/>
<circle class="b" cx="428.8" cy="276.3" r="4.97"/>
<circle class="b" cx="438.7" cy="282.0" r="4.97"/>
<circle class="b" cx="427.0" cy="288.0" r="4.97"/>
<circle class="b" cx="391.7" cy="290.0" r="4.97"/>
<circle class="b" cx="383.3" cy="296.7" r="4.97"/>
<circle class="b" cx="330.5" cy="297.2" r="4.97"/>
<circle class="b" cx="438.0" cy="298.3" r="4.97"/>
<circle class="b" cx="412.5" cy="300.8" r="4.97"/>
<circle class="b" cx="429.7" cy="319.2" r="4.97"/>
<circle class="b" cx="432.2" cy="359.2" r="4.97"/>
<circle class="b" cx="459.7" cy="370.3" r="4.97"/>
<circle class="b" cx="425.3" cy="386.2" r="4.97"/>
<circle class="b" cx="440.8" cy="393.3" r="4.97"/>
<circle class="b" cx="330.0" cy="311.7" r="4.97"/>
<circle class="b" cx="421.3" cy="313.0" r="4.97"/>
<circle class="b" cx="424.7" cy="324.2" r="4.97"/>
<circle class="b" cx="460.3" cy="317.0" r="4.97"/>
<circle class="b" cx="422.0" cy="340.3" r="4.97"/>
<circle class="b" cx="452.5" cy="341.2" r="4.97"/>
<circle class="b" cx="433.7" cy="351.3" r="4.97"/>
<circle class="b" cx="448.8" cy="358.7" r="4.97"/>
<circle class="b" cx="454.7" cy="372.5" r="4.97"/>
<circle class="b" cx="391.7" cy="383.8" r="4.97"/>
<circle class="b" cx="419.7" cy="390.8" r="4.97"/>
<circle class="b" cx="428.8" cy="398.7" r="4.97"/>
<circle class="b" cx="446.7" cy="388.3" r="4.97"/>
<circle class="b" cx="444.7" cy="400.0" r="4.97"/>
<circle class="b" cx="463.0" cy="385.0" r="4.97"/>
<circle class="b" cx="467.8" cy="440.5" r="4.97"/>
<circle class="b" cx="485.0" cy="408.0" r="4.97"/>
<circle class="b" cx="495.5" cy="415.0" r="4.97"/>
<circle class="b" cx="471.7" cy="421.2" r="4.97"/>
<circle class="b" cx="472.0" cy="437.8" r="4.97"/>
<circle class="b" cx="488.7" cy="448.3" r="4.97"/>
<circle class="b" cx="505.5" cy="448.3" r="4.97"/>
<circle class="b" cx="512.8" cy="511.7" r="4.97"/>
<circle class="b" cx="520.8" cy="487.2" r="4.97"/>
<circle class="b" cx="532.0" cy="478.7" r="4.97"/>
<circle class="b" cx="530.0" cy="444.2" r="4.97"/>
<circle class="b" cx="478.8" cy="271.2" r="4.97"/>
<circle class="b" cx="500.6" cy="283.5" r="4.97"/>
<circle class="b" cx="507.5" cy="307.1" r="4.97"/>
<circle class="b" cx="493.1" cy="323.1" r="4.97"/>
<circle class="b" cx="545.0" cy="329.8" r="4.97"/>
<circle class="b" cx="480.6" cy="331.9" r="4.97"/>
<circle class="b" cx="500.0" cy="331.9" r="4.97"/>
<circle class="b" cx="493.1" cy="335.0" r="4.97"/>
<circle class="b" cx="529.4" cy="332.2" r="4.97"/>
<circle class="b" cx="563.8" cy="335.0" r="4.97"/>
<circle class="b" cx="546.2" cy="336.2" r="4.97"/>
<circle class="b" cx="496.9" cy="341.2" r="4.97"/>
<circle class="b" cx="530.6" cy="343.8" r="4.97"/>
<circle class="b" cx="525.0" cy="344.4" r="4.97"/>
<circle class="b" cx="572.5" cy="342.5" r="4.97"/>
<circle class="b" cx="577.5" cy="346.2" r="4.97"/>
<circle class="b" cx="482.5" cy="350.0" r="4.97"/>
<circle class="b" cx="503.1" cy="351.2" r="4.97"/>
<circle class="b" cx="509.4" cy="352.5" r="4.97"/>
<circle class="b" cx="518.1" cy="350.0" r="4.97"/>
<circle class="b" cx="501.9" cy="356.9" r="4.97"/>
<circle class="b" cx="528.1" cy="356.2" r="4.97"/>
<circle class="b" cx="558.8" cy="353.8" r="4.97"/>
<circle class="b" cx="549.4" cy="350.6" r="4.97"/>
<circle class="b" cx="572.5" cy="358.8" r="4.97"/>
<circle class="b" cx="578.8" cy="351.2" r="4.97"/>
<circle class="b" cx="471.2" cy="362.5" r="4.97"/>
<circle class="b" cx="471.2" cy="276.9" r="4.97"/>
<circle class="b" cx="482.5" cy="275.0" r="4.97"/>
<circle class="b" cx="494.0" cy="279.0" r="4.97"/>
<circle class="b" cx="493.8" cy="289.4" r="4.97"/>
<circle class="b" cx="508.5" cy="289.6" r="4.97"/>
<circle class="b" cx="475.4" cy="303.4" r="4.97"/>
<circle class="b" cx="486.5" cy="307.5" r="4.97"/>
<circle class="b" cx="478.8" cy="316.5" r="4.97"/>
<circle class="b" cx="516.2" cy="305.9" r="4.97"/>
<circle class="b" cx="529.6" cy="300.0" r="4.97"/>
<circle class="b" cx="542.2" cy="306.0" r="4.97"/>
<circle class="b" cx="521.6" cy="316.2" r="4.97"/>
<circle class="b" cx="515.0" cy="323.8" r="4.97"/>
<circle class="b" cx="495.0" cy="326.9" r="4.97"/>
<circle class="b" cx="545.6" cy="321.5" r="4.97"/>
<circle class="b" cx="575.6" cy="331.2" r="4.97"/>
<circle class="b" cx="475.0" cy="336.9" r="4.97"/>
<circle class="b" cx="521.2" cy="331.9" r="4.97"/>
<circle class="b" cx="482.9" cy="343.1" r="4.97"/>
<circle class="b" cx="501.9" cy="344.1" r="4.97"/>
<circle class="b" cx="515.0" cy="340.2" r="4.97"/>
<circle class="b" cx="521.2" cy="345.0" r="4.97"/>
<circle class="b" cx="540.6" cy="342.9" r="4.97"/>
<circle class="b" cx="550.2" cy="343.1" r="4.97"/>
<circle class="b" cx="568.1" cy="340.2" r="4.97"/>
<circle class="b" cx="560.6" cy="347.2" r="4.97"/>
<circle class="b" cx="489.8" cy="351.2" r="4.97"/>
<circle class="b" cx="509.4" cy="356.2" r="4.97"/>
<circle class="b" cx="520.0" cy="357.5" r="4.97"/>
<circle class="b" cx="531.9" cy="355.6" r="4.97"/>
<circle class="b" cx="551.6" cy="356.2" r="4.97"/>
<circle class="b" cx="571.2" cy="351.2" r="4.97"/>
<circle class="b" cx="474.8" cy="365.2" r="4.97"/>
<circle class="b" cx="496.2" cy="365.6" r="4.97"/>
<circle class="b" cx="536.2" cy="366.2" r="4.97"/>
<circle class="b" cx="596.9" cy="328.8" r="4.97"/>
<circle class="b" cx="598.1" cy="353.1" r="4.97"/>
<circle class="b" cx="600.0" cy="363.1" r="4.97"/>
<circle class="b" cx="627.5" cy="358.1" r="4.97"/>
<circle class="b" cx="588.1" cy="334.4" r="4.97"/>
<circle class="b" cx="606.9" cy="336.0" r="4.97"/>
<circle class="b" cx="643.8" cy="331.9" r="4.97"/>
<circle class="b" cx="587.5" cy="343.8" r="4.97"/>
<circle class="b" cx="591.9" cy="351.9" r="4.97"/>
<circle class="b" cx="603.1" cy="358.1" r="4.97"/>
<circle class="b" cx="630.0" cy="352.5" r="4.97"/>
<circle class="b" cx="635.6" cy="359.0" r="4.97"/>
<circle class="b" cx="592.5" cy="365.6" r="4.97"/>
<circle class="b" cx="582.5" cy="365.0" r="4.97"/>
<circle class="b" cx="686.2" cy="366.0" r="4.97"/>
<circle class="b" cx="465.6" cy="389.4" r="4.97"/>
<circle class="b" cx="480.0" cy="382.5" r="4.97"/>
<circle class="b" cx="490.0" cy="375.6" r="4.97"/>
<circle class="b" cx="497.5" cy="385.0" r="4.97"/>
<circle class="b" cx="501.2" cy="375.6" r="4.97"/>
<circle class="b" cx="510.0" cy="381.2" r="4.97"/>
<circle class="b" cx="510.0" cy="391.9" r="4.97"/>
<circle class="b" cx="493.8" cy="393.1" r="4.97"/>
<circle class="b" cx="532.5" cy="372.5" r="4.97"/>
<circle class="b" cx="556.2" cy="385.0" r="4.97"/>
<circle class="b" cx="552.5" cy="375.0" r="4.97"/>
<circle class="b" cx="568.8" cy="393.1" r="4.97"/>
<circle class="b" cx="578.8" cy="399.4" r="4.97"/>
<circle class="b" cx="531.2" cy="393.1" r="4.97"/>
<circle class="b" cx="540.6" cy="398.1" r="4.97"/>
<circle class="b" cx="530.0" cy="399.4" r="4.97"/>
<circle class="b" cx="521.9" cy="404.4" r="4.97"/>
<circle class="b" cx="532.5" cy="418.1" r="4.97"/>
<circle class="b" cx="543.8" cy="422.5" r="4.97"/>
<circle class="b" cx="531.9" cy="427.5" r="4.97"/>
<circle class="b" cx="560.0" cy="418.1" r="4.97"/>
<circle class="b" cx="575.0" cy="422.5" r="4.97"/>
<circle class="b" cx="568.8" cy="426.9" r="4.97"/>
<circle class="b" cx="538.8" cy="442.5" r="4.97"/>
<circle class="b" cx="541.9" cy="444.4" r="4.97"/>
<circle class="b" cx="566.2" cy="441.9" r="4.97"/>
<circle class="b" cx="468.1" cy="379.0" r="4.97"/>
<circle class="b" cx="480.6" cy="375.0" r="4.97"/>
<circle class="b" cx="489.4" cy="381.2" r="4.97"/>
<circle class="b" cx="508.1" cy="374.4" r="4.97"/>
<circle class="b" cx="518.1" cy="375.0" r="4.97"/>
<circle class="b" cx="516.9" cy="384.4" r="4.97"/>
<circle class="b" cx="526.2" cy="384.0" r="4.97"/>
<circle class="b" cx="504.4" cy="388.8" r="4.97"/>
<circle class="b" cx="487.8" cy="391.2" r="4.97"/>
<circle class="b" cx="493.1" cy="399.4" r="4.97"/>
<circle class="b" cx="503.8" cy="401.0" r="4.97"/>
<circle class="b" cx="535.0" cy="387.5" r="4.97"/>
<circle class="b" cx="546.2" cy="386.2" r="4.97"/>
<circle class="b" cx="545.6" cy="371.2" r="4.97"/>
<circle class="b" cx="555.6" cy="381.2" r="4.97"/>
<circle class="b" cx="560.0" cy="374.4" r="4.97"/>
<circle class="b" cx="573.8" cy="377.8" r="4.97"/>
<circle class="b" cx="568.1" cy="387.5" r="4.97"/>
<circle class="b" cx="577.5" cy="394.4" r="4.97"/>
<circle class="b" cx="540.0" cy="393.8" r="4.97"/>
<circle class="b" cx="532.2" cy="402.2" r="4.97"/>
<circle class="b" cx="517.5" cy="409.0" r="4.97"/>
<circle class="b" cx="541.9" cy="407.1" r="4.97"/>
<circle class="b" cx="531.0" cy="411.9" r="4.97"/>
<circle class="b" cx="541.0" cy="416.0" r="4.97"/>
<circle class="b" cx="524.4" cy="422.5" r="4.97"/>
<circle class="b" cx="531.9" cy="422.5" r="4.97"/>
<circle class="b" cx="560.6" cy="400.4" r="4.97"/>
<circle class="b" cx="553.8" cy="406.9" r="4.97"/>
<circle class="b" cx="567.2" cy="410.6" r="4.97"/>
<circle class="b" cx="563.8" cy="420.6" r="4.97"/>
<circle class="b" cx="577.5" cy="428.1" r="4.97"/>
<circle class="b" cx="546.2" cy="435.9" r="4.97"/>
<circle class="b" cx="546.0" cy="448.8" r="4.97"/>
<circle class="b" cx="558.1" cy="438.1" r="4.97"/>
<circle class="b" cx="573.1" cy="438.8" r="4.97"/>
<circle class="b" cx="566.9" cy="455.4" r="4.97"/>
<circle class="b" cx="557.2" cy="459.8" r="4.97"/>
<circle class="b" cx="544.4" cy="464.8" r="4.97"/>
<circle class="b" cx="571.2" cy="465.6" r="4.97"/>
<circle class="b" cx="600.6" cy="374.4" r="4.97"/>
<circle class="b" cx="610.6" cy="378.8" r="4.97"/>
<circle class="b" cx="584.4" cy="377.5" r="4.97"/>
<circle class="b" cx="608.8" cy="388.8" r="4.97"/>
<circle class="b" cx="613.8" cy="400.6" r="4.97"/>
<circle class="b" cx="585.0" cy="400.0" r="4.97"/>
<circle class="b" cx="600.0" cy="416.2" r="4.97"/>
<circle class="b" cx="611.2" cy="420.0" r="4.97"/>
<circle class="b" cx="608.8" cy="409.4" r="4.97"/>
<circle class="b" cx="621.9" cy="410.0" r="4.97"/>
<circle class="b" cx="584.4" cy="416.9" r="4.97"/>
<circle class="b" cx="583.1" cy="425.0" r="4.97"/>
<circle class="b" cx="594.4" cy="428.8" r="4.97"/>
<circle class="b" cx="606.9" cy="427.5" r="4.97"/>
<circle class="b" cx="636.2" cy="427.5" r="4.97"/>
<circle class="b" cx="647.5" cy="431.9" r="4.97"/>
<circle class="b" cx="633.1" cy="436.2" r="4.97"/>
<circle class="b" cx="628.1" cy="438.5" r="4.97"/>
<circle class="b" cx="638.1" cy="438.1" r="4.97"/>
<circle class="b" cx="655.0" cy="397.5" r="4.97"/>
<circle class="b" cx="653.8" cy="407.5" r="4.97"/>
<circle class="b" cx="671.2" cy="436.2" r="4.97"/>
<circle class="b" cx="678.8" cy="440.6" r="4.97"/>
<circle class="b" cx="688.8" cy="443.1" r="4.97"/>
<circle class="b" cx="688.8" cy="435.0" r="4.97"/>
<circle class="b" cx="645.6" cy="446.2" r="4.97"/>
<circle class="b" cx="602.5" cy="446.2" r="4.97"/>
<circle class="b" cx="598.8" cy="451.9" r="4.97"/>
<circle class="b" cx="610.6" cy="450.0" r="4.97"/>
<circle class="b" cx="626.2" cy="451.9" r="4.97"/>
<circle class="b" cx="673.8" cy="459.4" r="4.97"/>
<circle class="b" cx="680.0" cy="461.2" r="4.97"/>
<circle class="b" cx="645.0" cy="461.9" r="4.97"/>
<circle class="b" cx="632.5" cy="462.5" r="4.97"/>
<circle class="b" cx="599.4" cy="457.5" r="4.97"/>
<circle class="b" cx="585.0" cy="373.1" r="4.97"/>
<circle class="b" cx="594.0" cy="379.0" r="4.97"/>
<circle class="b" cx="606.9" cy="383.1" r="4.97"/>
<circle class="b" cx="596.6" cy="389.0" r="4.97"/>
<circle class="b" cx="585.6" cy="394.0" r="4.97"/>
<circle class="b" cx="600.0" cy="398.1" r="4.97"/>
<circle class="b" cx="611.9" cy="396.9" r="4.97"/>
<circle class="b" cx="622.9" cy="385.2" r="4.97"/>
<circle class="b" cx="626.9" cy="401.9" r="4.97"/>
<circle class="b" cx="636.5" cy="400.4" r="4.97"/>
<circle class="b" cx="642.5" cy="390.0" r="4.97"/>
<circle class="b" cx="651.9" cy="389.8" r="4.97"/>
<circle class="b" cx="648.8" cy="405.0" r="4.97"/>
<circle class="b" cx="656.9" cy="413.5" r="4.97"/>
<circle class="b" cx="670.6" cy="373.8" r="4.97"/>
<circle class="b" cx="670.6" cy="388.4" r="4.97"/>
<circle class="b" cx="686.5" cy="396.5" r="4.97"/>
<circle class="b" cx="679.0" cy="418.5" r="4.97"/>
<circle class="b" cx="589.4" cy="409.0" r="4.97"/>
<circle class="b" cx="597.8" cy="412.5" r="4.97"/>
<circle class="b" cx="615.4" cy="412.5" r="4.97"/>
<circle class="b" cx="613.8" cy="425.0" r="4.97"/>
<circle class="b" cx="601.9" cy="427.8" r="4.97"/>
<circle class="b" cx="586.9" cy="434.6" r="4.97"/>
<circle class="b" cx="620.0" cy="434.8" r="4.97"/>
<circle class="b" cx="638.1" cy="431.5" r="4.97"/>
<circle class="b" cx="647.5" cy="423.1" r="4.97"/>
<circle class="b" cx="659.4" cy="426.2" r="4.97"/>
<circle class="b" cx="647.1" cy="437.2" r="4.97"/>
<circle class="b" cx="602.8" cy="439.0" r="4.97"/>
<circle class="b" cx="589.8" cy="444.4" r="4.97"/>
<circle class="b" cx="614.0" cy="446.2" r="4.97"/>
<circle class="b" cx="584.4" cy="451.2" r="4.97"/>
<circle class="b" cx="633.1" cy="455.0" r="4.97"/>
<circle class="b" cx="646.2" cy="450.6" r="4.97"/>
<circle class="b" cx="665.6" cy="447.5" r="4.97"/>
<circle class="b" cx="680.4" cy="447.8" r="4.97"/>
<circle class="b" cx="670.6" cy="440.6" r="4.97"/>
<circle class="b" cx="694.4" cy="439.4" r="4.97"/>
<circle class="b" cx="665.6" cy="457.1" r="4.97"/>
<circle class="b" cx="620.6" cy="461.9" r="4.97"/>
<circle class="b" cx="600.0" cy="462.8" r="4.97"/>
<circle class="b" cx="609.4" cy="467.5" r="4.97"/>
<circle class="b" cx="636.2" cy="463.8" r="4.97"/>
<circle class="b" cx="642.1" cy="466.9" r="4.97"/>
<circle class="b" cx="657.5" cy="468.1" r="4.97"/>
<circle class="b" cx="666.2" cy="467.5" r="4.97"/>
<circle class="b" cx="678.8" cy="465.6" r="4.97"/>
<circle class="b" cx="694.0" cy="458.8" r="4.97"/>
<circle class="b" cx="697.5" cy="465.6" r="4.97"/>
<circle class="b" cx="585.0" cy="466.9" r="4.97"/>
<circle class="b" cx="538.8" cy="481.9" r="4.97"/>
<circle class="b" cx="545.6" cy="491.2" r="4.97"/>
<circle class="b" cx="564.4" cy="492.5" r="4.97"/>
<circle class="b" cx="551.9" cy="473.1" r="4.97"/>
<circle class="b" cx="540.0" cy="486.5" r="4.97"/>
<circle class="b" cx="571.2" cy="487.2" r="4.97"/>
<circle class="b" cx="584.4" cy="475.0" r="4.97"/>
<circle class="b" cx="581.9" cy="480.6" r="4.97"/>
<circle class="b" cx="600.6" cy="476.2" r="4.97"/>
<circle class="b" cx="618.1" cy="480.6" r="4.97"/>
<circle class="b" cx="645.0" cy="475.6" r="4.97"/>
<circle class="b" cx="664.4" cy="486.9" r="4.97"/>
<circle class="b" cx="675.0" cy="486.9" r="4.97"/>
<circle class="b" cx="650.0" cy="497.5" r="4.97"/>
<circle class="b" cx="668.8" cy="501.9" r="4.97"/>
<circle class="b" cx="592.5" cy="505.0" r="4.97"/>
<circle class="b" cx="600.6" cy="514.4" r="4.97"/>
<circle class="b" cx="620.6" cy="523.8" r="4.97"/>
<circle class="b" cx="655.0" cy="510.6" r="4.97"/>
<circle class="b" cx="650.0" cy="518.1" r="4.97"/>
<circle class="b" cx="647.8" cy="538.8" r="4.97"/>
<circle class="b" cx="659.4" cy="536.2" r="4.97"/>
<circle class="b" cx="675.0" cy="545.0" r="4.97"/>
<circle class="b" cx="687.5" cy="548.1" r="4.97"/>
<circle class="b" cx="588.8" cy="476.2" r="4.97"/>
<circle class="b" cx="591.9" cy="483.1" r="4.97"/>
<circle class="b" cx="600.6" cy="481.9" r="4.97"/>
<circle class="b" cx="612.9" cy="474.4" r="4.97"/>
<circle class="b" cx="625.6" cy="473.8" r="4.97"/>
<circle class="b" cx="638.1" cy="476.0" r="4.97"/>
<circle class="b" cx="670.6" cy="478.5" r="4.97"/>
<circle class="b" cx="586.6" cy="493.8" r="4.97"/>
<circle class="b" cx="597.2" cy="491.5" r="4.97"/>
<circle class="b" cx="597.2" cy="501.2" r="4.97"/>
<circle class="b" cx="616.9" cy="488.1" r="4.97"/>
<circle class="b" cx="624.1" cy="492.5" r="4.97"/>
<circle class="b" cx="633.8" cy="487.2" r="4.97"/>
<circle class="b" cx="640.4" cy="496.6" r="4.97"/>
<circle class="b" cx="650.0" cy="489.8" r="4.97"/>
<circle class="b" cx="657.1" cy="484.0" r="4.97"/>
<circle class="b" cx="662.1" cy="496.5" r="4.97"/>
<circle class="b" cx="669.4" cy="494.4" r="4.97"/>
<circle class="b" cx="676.5" cy="489.8" r="4.97"/>
<circle class="b" cx="681.9" cy="498.1" r="4.97"/>
<circle class="b" cx="688.1" cy="506.2" r="4.97"/>
<circle class="b" cx="617.1" cy="505.9" r="4.97"/>
<circle class="b" cx="648.1" cy="512.9" r="4.97"/>
<circle class="b" cx="671.6" cy="513.8" r="4.97"/>
<circle class="b" cx="682.5" cy="512.5" r="4.97"/>
<circle class="b" cx="595.9" cy="518.8" r="4.97"/>
<circle class="b" cx="627.1" cy="520.9" r="4.97"/>
<circle class="b" cx="632.5" cy="528.4" r="4.97"/>
<circle class="b" cx="648.4" cy="533.1" r="4.97"/>
<circle class="b" cx="658.8" cy="533.4" r="4.97"/>
<circle class="b" cx="660.9" cy="545.4" r="4.97"/>
<circle class="b" cx="633.8" cy="546.9" r="4.97"/>
<circle class="b" cx="641.2" cy="551.9" r="4.97"/>
<circle class="b" cx="630.4" cy="556.0" r="4.97"/>
<circle class="b" cx="681.2" cy="549.1" r="4.97"/>
<circle class="b" cx="581.6" cy="559.8" r="4.97"/>
<circle class="b" cx="611.2" cy="564.6" r="4.97"/>
<circle class="b" cx="667.5" cy="566.2" r="4.97"/>
<circle class="b" cx="712.5" cy="417.2" r="4.97"/>
<circle class="b" cx="730.6" cy="428.8" r="4.97"/>
<circle class="b" cx="727.5" cy="438.5" r="4.97"/>
<circle class="b" cx="699.4" cy="437.5" r="4.97"/>
<circle class="b" cx="703.8" cy="457.5" r="4.97"/>
<circle class="b" cx="708.4" cy="416.6" r="4.97"/>
<circle class="b" cx="730.9" cy="432.1" r="4.97"/>
<circle class="b" cx="726.6" cy="450.4" r="4.97"/>
<circle class="b" cx="775.6" cy="429.6" r="4.97"/>
<circle class="b" cx="794.4" cy="445.9" r="4.97"/>
<circle class="b" cx="755.4" cy="464.4" r="4.97"/>
<circle class="b" cx="701.2" cy="449.4" r="4.97"/>
<circle class="b" cx="717.8" cy="466.9" r="4.97"/>
<circle class="b" cx="733.5" cy="480.6" r="4.97"/>
<circle class="b" cx="700.0" cy="491.2" r="4.97"/>
<circle class="b" cx="743.4" cy="501.2" r="4.97"/>
<circle class="b" cx="730.6" cy="510.0" r="4.97"/>
<circle class="b" cx="793.1" cy="501.9" r="4.97"/>
<circle class="b" cx="705.6" cy="533.8" r="4.97"/>
<circle class="b" cx="777.9" cy="538.1" r="4.97"/>
<circle class="b" cx="699.8" cy="544.4" r="4.97"/>
<circle class="b" cx="746.9" cy="558.1" r="4.97"/>
<circle class="b" cx="733.8" cy="561.9" r="4.97"/>
<circle class="b" cx="765.9" cy="564.6" r="4.97"/>
<circle class="b" cx="724.0" cy="475.0" r="4.97"/>
<circle class="b" cx="735.6" cy="482.5" r="4.97"/>
<circle class="b" cx="697.9" cy="486.6" r="4.97"/>
<circle class="b" cx="712.1" cy="496.2" r="4.97"/>
<circle class="b" cx="725.6" cy="491.5" r="4.97"/>
<circle class="b" cx="700.6" cy="501.9" r="4.97"/>
<circle class="b" cx="736.9" cy="507.5" r="4.97"/>
<circle class="b" cx="727.2" cy="516.0" r="4.97"/>
<circle class="b" cx="737.2" cy="517.8" r="4.97"/>
<circle class="b" cx="788.8" cy="502.2" r="4.97"/>
<circle class="b" cx="702.9" cy="530.0" r="4.97"/>
<circle class="b" cx="693.1" cy="533.8" r="4.97"/>
<circle class="b" cx="725.4" cy="538.8" r="4.97"/>
<circle class="b" cx="738.4" cy="540.9" r="4.97"/>
<circle class="b" cx="771.0" cy="541.9" r="4.97"/>
<circle class="b" cx="761.0" cy="548.1" r="4.97"/>
<circle class="b" cx="806.9" cy="535.6" r="4.97"/>
<circle class="b" cx="698.8" cy="550.0" r="4.97"/>
<circle class="b" cx="729.8" cy="556.2" r="4.97"/>
<circle class="b" cx="739.8" cy="560.2" r="4.97"/>
<circle class="b" cx="771.9" cy="558.5" r="4.97"/>
<circle class="b" cx="660.0" cy="581.9" r="4.97"/>
<circle class="b" cx="666.5" cy="582.5" r="4.97"/>
<circle class="b" cx="666.5" cy="575.2" r="4.97"/>
<circle class="b" cx="666.2" cy="589.6" r="4.97"/>
<circle class="b" cx="634.0" cy="579.0" r="4.97"/>
<circle class="b" cx="681.5" cy="578.8" r="4.97"/>
<circle class="b" cx="757.8" cy="571.9" r="4.97"/>
<circle class="b" cx="757.1" cy="579.1" r="4.97"/>
<circle class="b" cx="692.1" cy="586.2" r="4.97"/>
<circle class="b" cx="776.2" cy="597.1" r="4.97"/>
<circle class="b" cx="781.6" cy="612.2" r="4.97"/>
<circle class="b" cx="752.8" cy="618.5" r="4.97"/>
<circle class="b" cx="835.3" cy="568.0" r="4.97"/>
<circle class="b" cx="828.0" cy="540.0" r="4.97"/>
<circle class="b" cx="825.8" cy="574.7" r="4.97"/>
<circle class="b" cx="838.0" cy="578.7" r="4.97"/>
<circle class="b" cx="800.8" cy="586.2" r="4.97"/>
<circle class="b" cx="802.5" cy="608.7" r="4.97"/>
<circle class="b" cx="803.3" cy="648.3" r="4.97"/>
<circle class="b" cx="669.6" cy="677.2" r="4.97"/>
<circle class="b" cx="898.1" cy="673.9" r="4.97"/>
<circle class="b" cx="600.0" cy="328.3" r="4.97"/>
<circle class="b" cx="485.0" cy="366.9" r="4.97"/>
<circle class="b" cx="536.2" cy="366.6" r="4.97"/>
<circle class="b" cx="580.5" cy="445.0" r="4.97"/>
<circle class="b" cx="577.5" cy="428.0" r="4.97"/>
<circle class="b" cx="479.0" cy="270.5" r="4.97"/>
</g>
<rect x="103" y="60" width="833" height="647" fill="none" stroke="#000" stroke-width="1.78"/>
<g stroke="#000" stroke-width="1.78">
<line x1="173" y1="707" x2="173" y2="714.8"/>
<line x1="287" y1="707" x2="287" y2="714.8"/>
<line x1="400" y1="707" x2="400" y2="714.8"/>
<line x1="514" y1="707" x2="514" y2="714.8"/>
<line x1="628" y1="707" x2="628" y2="714.8"/>
<line x1="741" y1="707" x2="741" y2="714.8"/>
<line x1="855" y1="707" x2="855" y2="714.8"/>
<line x1="95.2" y1="171" x2="103" y2="171"/>
<line x1="95.2" y1="305" x2="103" y2="305"/>
<line x1="95.2" y1="440" x2="103" y2="440"/>
<line x1="95.2" y1="574" x2="103" y2="574"/>
</g>
<text class="t" x="173.40" y="738.95" text-anchor="middle">−<tspan dx="-1.1">2</tspan></text>
<text class="t" x="287.40" y="738.95" text-anchor="middle">−<tspan dx="-1.1">1</tspan></text>
<text class="t" x="400.90" y="738.95" text-anchor="middle">0</text>
<text class="t" x="514.40" y="738.95" text-anchor="middle">1</text>
<text class="t" x="628.40" y="738.95" text-anchor="middle">2</text>
<text class="t" x="741.90" y="738.95" text-anchor="middle">3</text>
<text class="t" x="855.40" y="738.95" text-anchor="middle">4</text>
<text class="t" x="87.90" y="179.35" text-anchor="end">2</text>
<text class="t" x="87.90" y="313.35" text-anchor="end">0</text>
<text class="t" x="86.60" y="448.35" text-anchor="end">−<tspan dx="-1.1">2</tspan></text>
<text class="t" x="86.60" y="582.35" text-anchor="end">−<tspan dx="-1.1">4</tspan></text>
<text class="ti" x="520.1" y="46.3" text-anchor="middle">Data Distribution (raw features)</text>
<text class="t" x="520" y="767.7" text-anchor="middle">x1</text>
<text class="t" x="0" y="0" text-anchor="middle" transform="translate(42.9,385.1) rotate(-90)">x2</text>
</svg></body></html>
